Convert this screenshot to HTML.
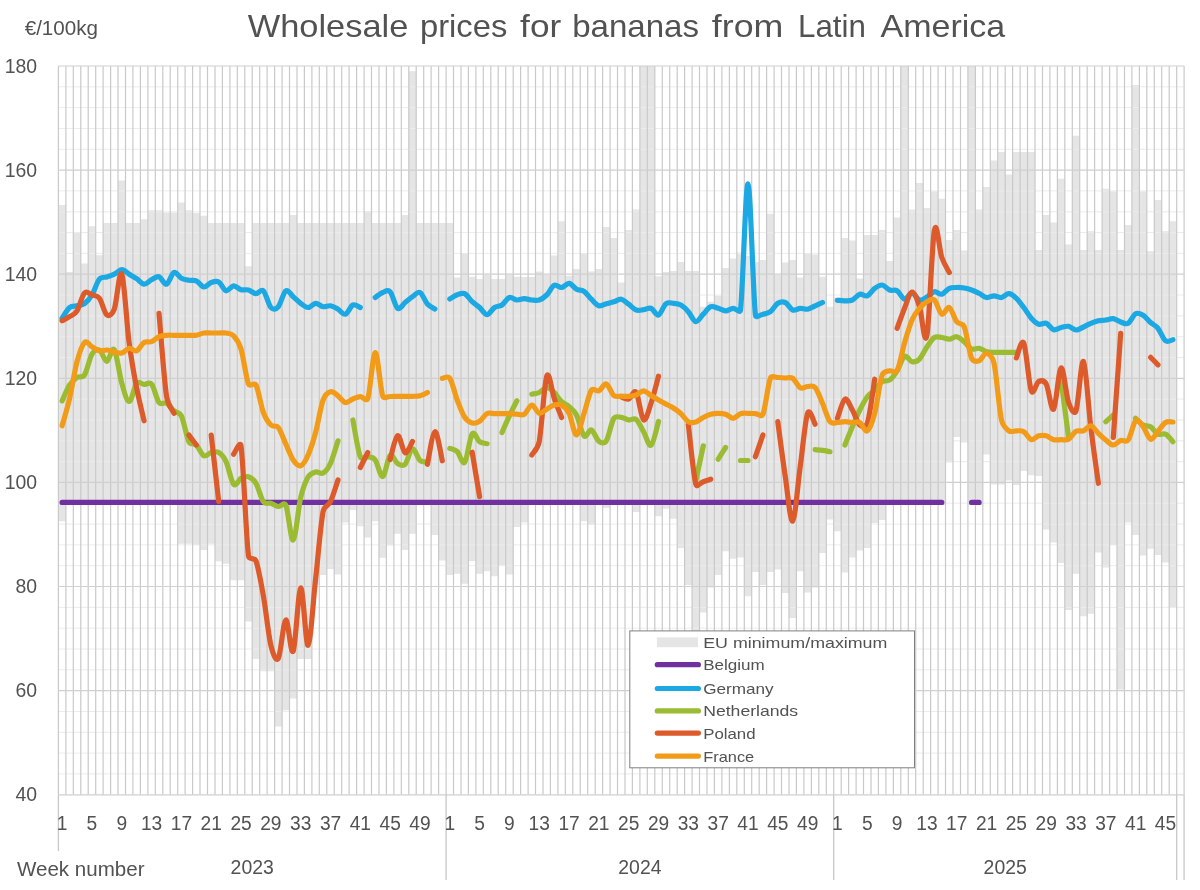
<!DOCTYPE html>
<html lang="en"><head><meta charset="utf-8"><title>Wholesale prices for bananas from Latin America</title>
<style>html,body{margin:0;padding:0;background:#fff}body{width:1200px;height:890px;overflow:hidden}svg{display:block}text{font-family:"Liberation Sans",Arial,sans-serif;fill:#525252}.ln{fill:none;stroke-width:5.2;stroke-linecap:round;stroke-linejoin:round}</style></head><body>
<svg width="1200" height="890" viewBox="0 0 1200 890">
<rect width="1200" height="890" fill="#fff"/>
<path d="M58.4 205H65.9V521.2H58.4ZM65.9 272H73.3V505H65.9ZM73.3 233H80.8V505H73.3ZM80.8 263.5H88.2V505H80.8ZM88.2 226.2H95.7V505H88.2ZM95.7 255.3H103.1V505H95.7ZM103.1 223H110.6V505H103.1ZM110.6 223H118V505H110.6ZM118 180.5H125.5V505H118ZM125.5 223H132.9V505H125.5ZM132.9 223H140.4V505H132.9ZM140.4 219.3H147.9V505H140.4ZM147.9 210.3H155.3V505H147.9ZM155.3 210.3H162.8V505H155.3ZM162.8 212.5H170.2V505H162.8ZM170.2 212.5H177.7V505H170.2ZM177.7 202.4H185.1V543.8H177.7ZM185.1 210.3H192.6V543.8H185.1ZM192.6 213H200V545H192.6ZM200 215.8H207.5V550H200ZM207.5 223H215V543.8H207.5ZM215 223H222.4V561.2H215ZM222.4 223H229.9V563.8H222.4ZM229.9 223H237.3V580.2H229.9ZM237.3 223H244.8V580.2H237.3ZM244.8 266.2H252.2V621.5H244.8ZM252.2 223H259.7V659H252.2ZM259.7 223H267.1V671.3H259.7ZM267.1 223H274.6V671.3H267.1ZM274.6 223H282.1V726.5H274.6ZM282.1 223H289.5V710.3H282.1ZM289.5 215H297V698.4H289.5ZM297 223H304.4V659H297ZM304.4 223H311.9V659H304.4ZM311.9 223H319.3V585H311.9ZM319.3 223H326.8V575H319.3ZM326.8 223H334.2V569H326.8ZM334.2 223H341.7V574.5H334.2ZM341.7 223H349.1V522.5H341.7ZM349.1 223H356.6V510H349.1ZM356.6 223H364.1V526.2H356.6ZM364.1 211.2H371.5V537.5H364.1ZM371.5 223H379V521.2H371.5ZM379 223H386.4V557.7H379ZM386.4 223H393.9V545.5H386.4ZM393.9 223H401.3V533.8H393.9ZM401.3 215H408.8V550H401.3ZM408.8 71.2H416.2V533.8H408.8ZM416.2 223H423.7V505H416.2ZM423.7 223H431.1V505H423.7ZM431.1 223H438.6V535H431.1ZM438.6 223H446.1V560.5H438.6ZM446.1 223H453.5V575H446.1ZM453.5 277.5H461V573.8H453.5ZM461 253H468.4V583.8H461ZM468.4 276.7H475.9V561.2H468.4ZM475.9 279H483.3V573.8H475.9ZM483.3 275H490.8V571.2H483.3ZM490.8 279H498.2V576.2H490.8ZM498.2 279H505.7V565H498.2ZM505.7 275H513.2V574.5H505.7ZM513.2 276.7H520.6V527H513.2ZM520.6 277H528.1V522.5H520.6ZM528.1 277H535.5V505H528.1ZM535.5 271.5H543V505H535.5ZM543 275H550.4V505H543ZM550.4 255.5H557.9V505H550.4ZM557.9 221.2H565.3V505H557.9ZM565.3 275.8H572.8V505H565.3ZM572.8 268.9H580.2V505H572.8ZM580.2 253H587.7V521.2H580.2ZM587.7 271.5H595.2V525H587.7ZM595.2 268.9H602.6V505H595.2ZM602.6 227H610.1V508H602.6ZM610.1 238H617.5V505H610.1ZM617.5 282.5H625V505H617.5ZM625 230H632.4V505H625ZM632.4 209.5H639.9V512H632.4ZM639.9 66H647.3V505H639.9ZM647.3 66H654.8V505H647.3ZM654.8 276.3H662.3V516.2H654.8ZM662.3 272H669.7V508.8H662.3ZM669.7 271H677.2V518.8H669.7ZM677.2 262H684.6V548H677.2ZM684.6 271H692.1V585H684.6ZM692.1 271H699.5V631H692.1ZM699.5 306.7H707V612.5H699.5ZM707 301.7H714.4V587.5H707ZM714.4 295.8H721.9V575H714.4ZM721.9 268H729.4V551.2H721.9ZM729.4 258.5H736.8V558.8H729.4ZM736.8 252.5H744.3V557.5H736.8ZM744.3 256H751.7V596.2H744.3ZM751.7 262H759.2V572H751.7ZM759.2 260H766.6V585H759.2ZM766.6 213.8H774.1V572H766.6ZM774.1 275H781.5V569.5H774.1ZM781.5 262.5H789V593H781.5ZM789 260H796.4V618H789ZM796.4 277.5H803.9V571.2H796.4ZM803.9 253H811.4V592.5H803.9ZM811.4 254.4H818.8V587.5H811.4ZM818.8 276.7H826.3V553H818.8ZM826.3 306.7H833.7V519.5H826.3ZM833.7 297.5H841.2V531.2H833.7ZM841.2 238H848.6V572.5H841.2ZM848.6 240.6H856.1V557.5H848.6ZM856.1 278.5H863.5V550.5H856.1ZM863.5 235H871V548H863.5ZM871 235H878.4V523H871ZM878.4 230H885.9V520H878.4ZM885.9 261H893.4V505H885.9ZM893.4 217.5H900.8V505H893.4ZM900.8 66H908.3V505H900.8ZM908.3 209.5H915.7V505H908.3ZM915.7 183H923.2V505H915.7ZM923.2 208H930.6V505H923.2ZM930.6 191.2H938.1V505H930.6ZM938.1 198.8H945.5V505H938.1ZM945.5 240H953V462.5H945.5ZM953 230H960.5V437H953ZM960.5 250.6H967.9V442.5H960.5ZM967.9 66H975.4V505H967.9ZM975.4 209.5H982.8V505H975.4ZM982.8 187H990.3V454.5H982.8ZM990.3 160.5H997.7V484.5H990.3ZM997.7 152H1005.2V484.5H997.7ZM1005.2 174.5H1012.6V480.5H1005.2ZM1012.6 152H1020.1V485H1012.6ZM1020.1 152H1027.5V471H1020.1ZM1027.5 152H1035V475.3H1027.5ZM1035 250H1042.5V476H1035ZM1042.5 215H1049.9V529.5H1042.5ZM1049.9 222.5H1057.4V542.5H1049.9ZM1057.4 178.8H1064.8V563H1057.4ZM1064.8 244.5H1072.3V610H1064.8ZM1072.3 135.8H1079.7V573.8H1072.3ZM1079.7 250H1087.2V616.2H1079.7ZM1087.2 231.2H1094.6V613.8H1087.2ZM1094.6 250H1102.1V552.5H1094.6ZM1102.1 188.8H1109.6V567.5H1102.1ZM1109.6 191.2H1117V545H1109.6ZM1117 250H1124.5V689.5H1117ZM1124.5 225H1131.9V522.5H1124.5ZM1131.9 85H1139.4V535H1131.9ZM1139.4 191.2H1146.8V555.5H1139.4ZM1146.8 251.2H1154.3V548.8H1146.8ZM1154.3 200H1161.7V555H1154.3ZM1161.7 231.2H1169.2V562.5H1161.7ZM1169.2 221.2H1176.7V607.5H1169.2Z" fill="#e5e5e5"/>
<path d="M58.4 773.9H1184.1M58.4 753.1H1184.1M58.4 732.3H1184.1M58.4 711.5H1184.1M58.4 669.8H1184.1M58.4 649H1184.1M58.4 628.2H1184.1M58.4 607.4H1184.1M58.4 565.7H1184.1M58.4 544.9H1184.1M58.4 524.1H1184.1M58.4 503.2H1184.1M58.4 461.6H1184.1M58.4 440.8H1184.1M58.4 420H1184.1M58.4 399.1H1184.1M58.4 357.5H1184.1M58.4 336.7H1184.1M58.4 315.9H1184.1M58.4 295H1184.1M58.4 253.4H1184.1M58.4 232.6H1184.1M58.4 211.8H1184.1M58.4 190.9H1184.1M58.4 149.3H1184.1M58.4 128.5H1184.1M58.4 107.6H1184.1M58.4 86.8H1184.1" stroke="#ececec" stroke-width="1" fill="none"/>
<path d="M58.4 66V794.8M65.9 66V794.8M73.3 66V794.8M80.8 66V794.8M88.2 66V794.8M95.7 66V794.8M103.1 66V794.8M110.6 66V794.8M118 66V794.8M125.5 66V794.8M132.9 66V794.8M140.4 66V794.8M147.9 66V794.8M155.3 66V794.8M162.8 66V794.8M170.2 66V794.8M177.7 66V794.8M185.1 66V794.8M192.6 66V794.8M200 66V794.8M207.5 66V794.8M215 66V794.8M222.4 66V794.8M229.9 66V794.8M237.3 66V794.8M244.8 66V794.8M252.2 66V794.8M259.7 66V794.8M267.1 66V794.8M274.6 66V794.8M282.1 66V794.8M289.5 66V794.8M297 66V794.8M304.4 66V794.8M311.9 66V794.8M319.3 66V794.8M326.8 66V794.8M334.2 66V794.8M341.7 66V794.8M349.1 66V794.8M356.6 66V794.8M364.1 66V794.8M371.5 66V794.8M379 66V794.8M386.4 66V794.8M393.9 66V794.8M401.3 66V794.8M408.8 66V794.8M416.2 66V794.8M423.7 66V794.8M431.1 66V794.8M438.6 66V794.8M446.1 66V794.8M453.5 66V794.8M461 66V794.8M468.4 66V794.8M475.9 66V794.8M483.3 66V794.8M490.8 66V794.8M498.2 66V794.8M505.7 66V794.8M513.2 66V794.8M520.6 66V794.8M528.1 66V794.8M535.5 66V794.8M543 66V794.8M550.4 66V794.8M557.9 66V794.8M565.3 66V794.8M572.8 66V794.8M580.2 66V794.8M587.7 66V794.8M595.2 66V794.8M602.6 66V794.8M610.1 66V794.8M617.5 66V794.8M625 66V794.8M632.4 66V794.8M639.9 66V794.8M647.3 66V794.8M654.8 66V794.8M662.3 66V794.8M669.7 66V794.8M677.2 66V794.8M684.6 66V794.8M692.1 66V794.8M699.5 66V794.8M707 66V794.8M714.4 66V794.8M721.9 66V794.8M729.4 66V794.8M736.8 66V794.8M744.3 66V794.8M751.7 66V794.8M759.2 66V794.8M766.6 66V794.8M774.1 66V794.8M781.5 66V794.8M789 66V794.8M796.4 66V794.8M803.9 66V794.8M811.4 66V794.8M818.8 66V794.8M826.3 66V794.8M833.7 66V794.8M841.2 66V794.8M848.6 66V794.8M856.1 66V794.8M863.5 66V794.8M871 66V794.8M878.4 66V794.8M885.9 66V794.8M893.4 66V794.8M900.8 66V794.8M908.3 66V794.8M915.7 66V794.8M923.2 66V794.8M930.6 66V794.8M938.1 66V794.8M945.5 66V794.8M953 66V794.8M960.5 66V794.8M967.9 66V794.8M975.4 66V794.8M982.8 66V794.8M990.3 66V794.8M997.7 66V794.8M1005.2 66V794.8M1012.6 66V794.8M1020.1 66V794.8M1027.5 66V794.8M1035 66V794.8M1042.5 66V794.8M1049.9 66V794.8M1057.4 66V794.8M1064.8 66V794.8M1072.3 66V794.8M1079.7 66V794.8M1087.2 66V794.8M1094.6 66V794.8M1102.1 66V794.8M1109.6 66V794.8M1117 66V794.8M1124.5 66V794.8M1131.9 66V794.8M1139.4 66V794.8M1146.8 66V794.8M1154.3 66V794.8M1161.7 66V794.8M1169.2 66V794.8M1176.7 66V794.8M1184.1 66V794.8" stroke="#c9c9c9" stroke-width="1.2" fill="none"/>
<path d="M58.4 794.8H1184.1M58.4 690.6H1184.1M58.4 586.5H1184.1M58.4 482.4H1184.1M58.4 378.3H1184.1M58.4 274.2H1184.1M58.4 170.1H1184.1M58.4 66H1184.1" stroke="#d0d0d0" stroke-width="1.2" fill="none"/>
<path d="M58.4 794.8V851M446.1 794.8V880M833.7 794.8V880M1176.7 794.8V880M1184.1 794.8V880" stroke="#c8c8c8" stroke-width="1.3" fill="none"/>
<path class="ln" stroke="#7030a0" d="M62.1 502.4C63.4 502.4 67.1 502.4 69.6 502.4C72.1 502.4 74.6 502.4 77 502.4C79.5 502.4 82 502.4 84.5 502.4C87 502.4 89.5 502.4 91.9 502.4C94.4 502.4 96.9 502.4 99.4 502.4C101.9 502.4 104.4 502.4 106.9 502.4C109.3 502.4 111.8 502.4 114.3 502.4C116.8 502.4 119.3 502.4 121.8 502.4C124.3 502.4 126.7 502.4 129.2 502.4C131.7 502.4 134.2 502.4 136.7 502.4C139.2 502.4 141.6 502.4 144.1 502.4C146.6 502.4 149.1 502.4 151.6 502.4C154.1 502.4 156.6 502.4 159 502.4C161.5 502.4 164 502.4 166.5 502.4C169 502.4 171.5 502.4 174 502.4C176.4 502.4 178.9 502.4 181.4 502.4C183.9 502.4 186.4 502.4 188.9 502.4C191.3 502.4 193.8 502.4 196.3 502.4C198.8 502.4 201.3 502.4 203.8 502.4C206.3 502.4 208.7 502.4 211.2 502.4C213.7 502.4 216.2 502.4 218.7 502.4C221.2 502.4 223.7 502.4 226.1 502.4C228.6 502.4 231.1 502.4 233.6 502.4C236.1 502.4 238.6 502.4 241 502.4C243.5 502.4 246 502.4 248.5 502.4C251 502.4 253.5 502.4 256 502.4C258.4 502.4 260.9 502.4 263.4 502.4C265.9 502.4 268.4 502.4 270.9 502.4C273.4 502.4 275.8 502.4 278.3 502.4C280.8 502.4 283.3 502.4 285.8 502.4C288.3 502.4 290.7 502.4 293.2 502.4C295.7 502.4 298.2 502.4 300.7 502.4C303.2 502.4 305.7 502.4 308.1 502.4C310.6 502.4 313.1 502.4 315.6 502.4C318.1 502.4 320.6 502.4 323.1 502.4C325.5 502.4 328 502.4 330.5 502.4C333 502.4 335.5 502.4 338 502.4C340.4 502.4 342.9 502.4 345.4 502.4C347.9 502.4 350.4 502.4 352.9 502.4C355.4 502.4 357.8 502.4 360.3 502.4C362.8 502.4 365.3 502.4 367.8 502.4C370.3 502.4 372.8 502.4 375.2 502.4C377.7 502.4 380.2 502.4 382.7 502.4C385.2 502.4 387.7 502.4 390.1 502.4C392.6 502.4 395.1 502.4 397.6 502.4C400.1 502.4 402.6 502.4 405.1 502.4C407.5 502.4 410 502.4 412.5 502.4C415 502.4 417.5 502.4 420 502.4C422.5 502.4 424.9 502.4 427.4 502.4C429.9 502.4 432.4 502.4 434.9 502.4C437.4 502.4 439.8 502.4 442.3 502.4C444.8 502.4 447.3 502.4 449.8 502.4C452.3 502.4 454.8 502.4 457.2 502.4C459.7 502.4 462.2 502.4 464.7 502.4C467.2 502.4 469.7 502.4 472.2 502.4C474.6 502.4 477.1 502.4 479.6 502.4C482.1 502.4 484.6 502.4 487.1 502.4C489.5 502.4 492 502.4 494.5 502.4C497 502.4 499.5 502.4 502 502.4C504.5 502.4 506.9 502.4 509.4 502.4C511.9 502.4 514.4 502.4 516.9 502.4C519.4 502.4 521.9 502.4 524.3 502.4C526.8 502.4 529.3 502.4 531.8 502.4C534.3 502.4 536.8 502.4 539.2 502.4C541.7 502.4 544.2 502.4 546.7 502.4C549.2 502.4 551.7 502.4 554.2 502.4C556.6 502.4 559.1 502.4 561.6 502.4C564.1 502.4 566.6 502.4 569.1 502.4C571.6 502.4 574 502.4 576.5 502.4C579 502.4 581.5 502.4 584 502.4C586.5 502.4 588.9 502.4 591.4 502.4C593.9 502.4 596.4 502.4 598.9 502.4C601.4 502.4 603.9 502.4 606.3 502.4C608.8 502.4 611.3 502.4 613.8 502.4C616.3 502.4 618.8 502.4 621.3 502.4C623.7 502.4 626.2 502.4 628.7 502.4C631.2 502.4 633.7 502.4 636.2 502.4C638.6 502.4 641.1 502.4 643.6 502.4C646.1 502.4 648.6 502.4 651.1 502.4C653.6 502.4 656 502.4 658.5 502.4C661 502.4 663.5 502.4 666 502.4C668.5 502.4 671 502.4 673.4 502.4C675.9 502.4 678.4 502.4 680.9 502.4C683.4 502.4 685.9 502.4 688.3 502.4C690.8 502.4 693.3 502.4 695.8 502.4C698.3 502.4 700.8 502.4 703.3 502.4C705.7 502.4 708.2 502.4 710.7 502.4C713.2 502.4 715.7 502.4 718.2 502.4C720.7 502.4 723.1 502.4 725.6 502.4C728.1 502.4 730.6 502.4 733.1 502.4C735.6 502.4 738 502.4 740.5 502.4C743 502.4 745.5 502.4 748 502.4C750.5 502.4 753 502.4 755.4 502.4C757.9 502.4 760.4 502.4 762.9 502.4C765.4 502.4 767.9 502.4 770.4 502.4C772.8 502.4 775.3 502.4 777.8 502.4C780.3 502.4 782.8 502.4 785.3 502.4C787.7 502.4 790.2 502.4 792.7 502.4C795.2 502.4 797.7 502.4 800.2 502.4C802.7 502.4 805.1 502.4 807.6 502.4C810.1 502.4 812.6 502.4 815.1 502.4C817.6 502.4 820.1 502.4 822.5 502.4C825 502.4 827.5 502.4 830 502.4C832.5 502.4 835 502.4 837.4 502.4C839.9 502.4 842.4 502.4 844.9 502.4C847.4 502.4 849.9 502.4 852.4 502.4C854.8 502.4 857.3 502.4 859.8 502.4C862.3 502.4 864.8 502.4 867.3 502.4C869.8 502.4 872.2 502.4 874.7 502.4C877.2 502.4 879.7 502.4 882.2 502.4C884.7 502.4 887.1 502.4 889.6 502.4C892.1 502.4 894.6 502.4 897.1 502.4C899.6 502.4 902.1 502.4 904.5 502.4C907 502.4 909.5 502.4 912 502.4C914.5 502.4 917 502.4 919.5 502.4C921.9 502.4 924.4 502.4 926.9 502.4C929.4 502.4 931.9 502.4 934.4 502.4C936.8 502.4 940.6 502.4 941.8 502.4 M971.6 502.4C972.9 502.4 977.8 502.4 979.1 502.4"/>
<path class="ln" stroke="#1ba8e3" d="M62.1 318.3C63.4 316.5 67.1 309.6 69.6 307.5C72.1 305.4 74.6 306.4 77 305.8C79.5 305.2 82 305.5 84.5 303.7C87 301.9 89.5 299.1 91.9 295C94.4 290.9 96.9 282.2 99.4 279.2C101.9 276.2 104.4 277.8 106.9 277C109.3 276.2 111.8 275.4 114.3 274.2C116.8 273 119.3 269.7 121.8 269.7C124.3 269.7 126.7 272.7 129.2 274.2C131.7 275.7 134.2 277 136.7 278.7C139.2 280.4 141.6 284 144.1 284.2C146.6 284.4 149.1 280.9 151.6 279.7C154.1 278.4 156.6 275.9 159 276.7C161.5 277.4 164 284.9 166.5 284.2C169 283.5 171.5 273.5 174 272.5C176.4 271.5 178.9 277 181.4 278.3C183.9 279.6 186.4 279.9 188.9 280.3C191.3 280.7 193.8 279.7 196.3 280.8C198.8 281.9 201.3 286.7 203.8 287C206.3 287.3 208.7 283.3 211.2 282.5C213.7 281.7 216.2 280.6 218.7 282C221.2 283.4 223.7 290.2 226.1 290.8C228.6 291.4 231.1 286 233.6 285.8C236.1 285.6 238.6 289 241 289.7C243.5 290.4 246 289.3 248.5 290C251 290.7 253.5 293.6 256 293.7C258.4 293.8 260.9 288.5 263.4 290.8C265.9 293.1 268.4 304.9 270.9 307.5C273.4 310.1 275.8 309.5 278.3 306.7C280.8 303.9 283.3 292.5 285.8 290.8C288.3 289.1 290.7 294.6 293.2 296.7C295.7 298.8 298.2 301.5 300.7 303.3C303.2 305.1 305.7 307.5 308.1 307.5C310.6 307.5 313.1 303.4 315.6 303.3C318.1 303.2 320.6 306.3 323.1 306.7C325.5 307.1 328 305.4 330.5 305.8C333 306.2 335.5 307.8 338 309.2C340.4 310.6 342.9 314.9 345.4 314.2C347.9 313.5 350.4 306.1 352.9 305C355.4 303.9 359.1 307.1 360.3 307.5 M375.2 297.5C376.5 296.7 380.2 293.5 382.7 292.5C385.2 291.5 387.7 289.1 390.1 291.7C392.6 294.3 395.1 306.5 397.6 308.3C400.1 310.1 402.6 304.4 405.1 302.5C407.5 300.6 410 298.4 412.5 296.7C415 295 417.5 291.3 420 292.5C422.5 293.7 424.9 301.2 427.4 304C429.9 306.8 433.6 308.2 434.9 309 M449.8 299C451 298.3 454.8 295.6 457.2 294.7C459.7 293.8 462.2 292.5 464.7 293.7C467.2 294.9 469.7 299.4 472.2 301.7C474.6 304 477.1 305.3 479.6 307.5C482.1 309.7 484.6 314.7 487.1 314.7C489.5 314.7 492 309.1 494.5 307.5C497 305.9 499.5 306.7 502 305C504.5 303.3 506.9 298.3 509.4 297.5C511.9 296.7 514.4 299.8 516.9 300C519.4 300.2 521.9 298.7 524.3 298.7C526.8 298.7 529.3 299.8 531.8 300C534.3 300.2 536.8 300.8 539.2 300C541.7 299.2 544.2 297.4 546.7 295C549.2 292.6 551.7 286.6 554.2 285.3C556.6 284.1 559.1 287.8 561.6 287.5C564.1 287.2 566.6 283 569.1 283.3C571.6 283.6 574 287.9 576.5 289.2C579 290.5 581.5 289.6 584 291.3C586.5 293 588.9 296.8 591.4 299.2C593.9 301.6 596.4 305.1 598.9 305.8C601.4 306.6 603.9 304.4 606.3 303.7C608.8 303 611.3 302.6 613.8 301.8C616.3 301.1 618.8 298.8 621.3 299.2C623.7 299.6 626.2 302.4 628.7 304.2C631.2 306 633.7 309.1 636.2 310C638.6 310.9 641.1 310 643.6 309.7C646.1 309.4 648.6 307.4 651.1 308.3C653.6 309.2 656 315.8 658.5 315C661 314.2 663.5 305.6 666 303.7C668.5 301.8 671 303.1 673.4 303.3C675.9 303.5 678.4 303.6 680.9 305C683.4 306.4 685.9 308.9 688.3 311.7C690.8 314.5 693.3 321.3 695.8 321.7C698.3 322.1 700.8 316.7 703.3 314.2C705.7 311.7 708.2 307.7 710.7 306.7C713.2 305.7 715.7 307.6 718.2 308.3C720.7 309 723.1 310.8 725.6 310.8C728.1 310.8 730.6 308.4 733.1 308.3C735.6 308.2 740.1 313.8 740.5 310C743 289.3 745.5 183.2 748 184C750.5 184.8 753 293.3 755.4 315C755.9 318.7 760.4 314.8 762.9 314.2C765.4 313.6 767.9 313.5 770.4 311.7C772.8 309.9 775.3 304.8 777.8 303.3C780.3 301.8 782.8 301.4 785.3 302.5C787.7 303.6 790.2 309 792.7 310C795.2 311 797.7 308.4 800.2 308.3C802.7 308.2 805.1 309.6 807.6 309.2C810.1 308.8 812.6 306.9 815.1 305.8C817.6 304.7 821.3 303.1 822.5 302.5 M837.4 300.3C838.7 300.4 842.4 300.9 844.9 300.8C847.4 300.8 849.9 301.1 852.4 300C854.8 298.9 857.3 294.9 859.8 294.2C862.3 293.5 864.8 296.8 867.3 295.8C869.8 294.8 872.2 290.1 874.7 288.3C877.2 286.5 879.7 284.7 882.2 285C884.7 285.3 887.1 289 889.6 290C892.1 291 894.6 289.3 897.1 290.8C899.6 292.3 902.1 298.8 904.5 299.2C907 299.6 909.5 292.9 912 293C914.5 293.1 917 299.3 919.5 300C921.9 300.7 924.4 298.4 926.9 297C929.4 295.6 931.9 292.2 934.4 291.7C936.8 291.2 939.3 294.8 941.8 294.2C944.3 293.6 946.8 289.4 949.3 288.3C951.8 287.2 954.2 287.6 956.7 287.5C959.2 287.4 961.7 287.6 964.2 288C966.7 288.4 969.2 289.1 971.6 290C974.1 290.9 976.6 292.1 979.1 293.3C981.6 294.6 984.1 297.1 986.5 297.5C989 297.9 991.5 295.8 994 295.8C996.5 295.8 999 297.9 1001.5 297.5C1003.9 297.1 1006.4 293.6 1008.9 293.7C1011.4 293.8 1013.9 296 1016.4 298.3C1018.9 300.6 1021.3 304.2 1023.8 307.5C1026.3 310.8 1028.8 315.5 1031.3 318.3C1033.8 321.1 1036.2 323.4 1038.7 324.2C1041.2 325 1043.7 322.4 1046.2 323.3C1048.7 324.2 1051.2 329 1053.6 329.7C1056.1 330.4 1058.6 328.1 1061.1 327.5C1063.6 326.9 1066.1 325.9 1068.6 326.3C1071 326.7 1073.5 329.9 1076 330C1078.5 330.1 1081 328.1 1083.5 327C1085.9 325.9 1088.4 324.3 1090.9 323.3C1093.4 322.3 1095.9 321.4 1098.4 320.8C1100.9 320.2 1103.3 320.4 1105.8 320C1108.3 319.6 1110.8 318.4 1113.3 318.7C1115.8 319 1118.3 321.2 1120.7 322C1123.2 322.8 1125.7 324.7 1128.2 323.3C1130.7 321.9 1133.2 315 1135.6 313.7C1138.1 312.4 1140.6 313.8 1143.1 315.3C1145.6 316.8 1148.1 320.3 1150.6 322.5C1153 324.7 1155.5 325.2 1158 328.3C1160.5 331.4 1163 338.9 1165.5 340.8C1168 342.7 1171.7 339.9 1172.9 339.7"/>
<path class="ln" stroke="#9bbb33" d="M62.1 400.8C63.4 398.2 67.1 388.9 69.6 385C72.1 381.1 74.6 379.2 77 377.5C79.5 375.8 82.4 378.3 84.5 375C87 371.1 89.5 358.4 91.9 354.2C94.1 350.5 96.9 348.8 99.4 350C101.9 351.2 104.4 361.4 106.9 361.3C109.3 361.2 111.8 346 114.3 349.7C116.8 353.4 119.3 374.7 121.8 383.3C124.3 391.9 126.7 401.5 129.2 401.5C131.7 401.5 134.2 386.1 136.7 383.3C139.2 380.5 141.6 384.4 144.1 384.5C146.6 384.6 149.2 381.3 151.6 384.2C154.1 387.2 156.6 399.3 159 402.5C161.3 405.5 164 401.9 166.5 403.3C169 404.7 171.5 408.7 174 410.8C176.4 412.9 179.5 411.8 181.4 415.8C183.9 420.9 186.4 436.8 188.9 441.7C190.7 445.3 193.8 442.6 196.3 445C198.8 447.4 201.3 454.6 203.8 455.8C206.3 457.1 208.7 453.1 211.2 452.5C213.7 451.9 216.2 451 218.7 452.5C221.2 454 223.7 456.4 226.1 461.7C228.6 467 231.1 481.4 233.6 484.2C236.1 487 238.6 479.6 241 478.3C243.5 477.1 246 475.9 248.5 476.7C251 477.5 253.5 479.1 256 483.3C258.4 487.5 260.9 498.4 263.4 501.7C265.7 504.8 268.4 502.5 270.9 503.3C273.4 504.1 275.8 506.2 278.3 506.5C280.8 506.8 284.2 501.5 285.8 505C288.3 510.6 290.7 541.2 293.2 540C295.7 538.8 298.2 508 300.7 497.5C303.2 487 305.7 481.2 308.1 477C310.4 473.1 313.1 472.7 315.6 472C318.1 471.3 320.6 474.4 323.1 473C325.5 471.6 328 468.7 330.5 463.3C333 457.9 336.7 444.6 338 440.8 M352.9 420C354.1 426.1 357.8 450.6 360.3 456.7C361.7 460.2 365.3 456.1 367.8 456.7C370.3 457.2 372.8 456.7 375.2 460C377.7 463.3 380.2 477.2 382.7 476.5C385.2 475.8 387.7 457.7 390.1 455.5C392.6 453.3 395.1 462 397.6 463.5C400.1 465 402.6 466.7 405.1 464.3C407.5 461.9 410 449.6 412.5 449C415 448.4 417.5 458.4 420 460.5C422.5 462.6 426.2 461.5 427.4 461.7 M449.8 448.4C451 448.9 454.8 449.2 457.2 451.5C459.7 453.8 462.2 465.2 464.7 462.3C467.2 459.4 469.7 437.2 472.2 433.8C474.6 430.4 477.1 440.2 479.6 441.8C482.1 443.4 485.8 443.4 487.1 443.7 M502 432.5C503.2 429.7 506.9 421.1 509.4 415.8C511.9 410.5 515.6 403.3 516.9 400.8 M531.8 394.2C533 393.9 536.8 393.6 539.2 392.5C541.7 391.4 544.2 387.5 546.7 387.5C549.2 387.5 551.7 390.1 554.2 392.5C556.6 394.9 559.1 399.3 561.6 401.7C564.1 404.1 566.6 404.5 569.1 406.7C571.6 408.9 574 410.1 576.5 415C579 419.9 581.5 433.3 584 435.8C586.5 438.3 588.9 429.1 591.4 430C593.9 430.9 596.4 439.5 598.9 441.3C601.4 443.1 604.3 443.9 606.3 440.8C608.8 437 611.3 422.4 613.8 418.5C615.8 415.3 618.8 417.1 621.3 417.4C623.7 417.6 626.2 419.6 628.7 420C631.2 420.4 633.7 417.5 636.2 419.5C638.6 421.5 641.1 427.5 643.6 431.8C646.1 436.1 648.6 446.9 651.1 445.2C653.6 443.5 657.3 425.4 658.5 421.4 M695.8 481C697 475.1 702 451.7 703.3 445.8 M718.2 459.2C719.4 457.2 724.4 449.4 725.6 447.5 M740.5 460.5C741.8 460.5 746.7 460.5 748 460.5 M815.1 449.7C816.3 449.8 820.1 450 822.5 450.3C825 450.6 828.8 451.5 830 451.7 M844.9 445C846.1 441.9 849.9 432.5 852.4 426.7C854.8 420.9 857.3 415 859.8 410C862.3 405 864.8 400 867.3 396.7C869.8 393.4 872.2 392.5 874.7 390C877.2 387.5 879.7 383.4 882.2 381.7C884.7 380 887.1 381.8 889.6 380C892.1 378.2 894.6 374.8 897.1 370.8C899.6 366.9 902.1 357.8 904.5 356.3C907 354.8 909.5 361.2 912 361.7C914.5 362.2 917 361.6 919.5 359.1C921.9 356.7 924.4 350.6 926.9 347C929.4 343.4 931.9 339.1 934.4 337.5C936.8 335.9 939.3 337.2 941.8 337.5C944.3 337.8 946.8 339.3 949.3 339.2C951.8 339.1 954.2 336.3 956.7 336.7C959.2 337.1 961.7 339.6 964.2 341.7C966.7 343.8 969.2 347.9 971.6 349C974.1 350.1 976.6 347.9 979.1 348.3C981.6 348.8 984.1 351 986.5 351.7C989 352.4 991.5 352.2 994 352.3C996.5 352.4 999 352.3 1001.5 352.3C1003.9 352.3 1006.4 352.3 1008.9 352.3C1011.4 352.3 1015.1 352.3 1016.4 352.3 M1061.1 380C1062.3 389.6 1067.3 428.1 1068.6 437.7 M1105.8 421.7C1107.1 420.6 1112 416.1 1113.3 415 M1135.6 418.3C1136.9 419.4 1140.6 423.6 1143.1 425C1145.6 426.4 1148.1 425.2 1150.6 426.7C1153 428.2 1155.5 432.9 1158 434.2C1160.5 435.4 1163 432.9 1165.5 434.2C1168 435.4 1171.7 440.4 1172.9 441.7"/>
<path class="ln" stroke="#dd5a2b" d="M62.1 320.8C63.4 320.1 67.1 318.4 69.6 316.7C72.1 315 74.6 314.8 77 310.8C79.5 306.9 82 295.6 84.5 293C87 290.4 89.5 294.1 91.9 295C94.4 295.9 97 295 99.4 298.3C101.9 301.6 104.4 313.2 106.9 315C109.3 316.8 112.7 313.6 114.3 309.2C116.8 302.4 119.3 268.5 121.8 274.2C124.3 279.9 126.7 324.3 129.2 343.3C131.7 362.3 134.2 375.4 136.7 388.3C139.2 401.2 142.9 415.4 144.1 420.8 M159 313.3C160.3 327.1 164 379.3 166.5 396C167.9 405.3 172.7 410.4 174 413.3 M188.9 435C190.1 436.7 195.1 443.3 196.3 445 M211.2 435C212.5 446.1 217.4 490.4 218.7 501.5 M233.6 454.2C234.8 452.8 240.2 440.2 241 445.8C243.5 462.8 246 536.8 248.5 556C249.1 560.5 254.4 556.8 256 561C258.4 567.7 260.9 582 263.4 596C265.9 610 268.4 634.9 270.9 645.3C272.6 652.6 275.8 662.6 278.3 658.4C280.8 654.2 283.3 621.2 285.8 620C288.3 618.8 290.7 656.5 293.2 651.2C295.7 645.9 298.2 589 300.7 588C303.2 587 305.7 646.8 308.1 645.3C310.6 643.8 313.1 601.3 315.6 579C318.1 556.7 320.6 524.4 323.1 511.5C324.2 505.4 328 506.8 330.5 501.5C333 496.2 336.7 483.6 338 480 M360.3 467.5C361.6 465 366.5 455 367.8 452.5 M390.1 459.5C391.4 455.5 395.1 436.8 397.6 435.7C400.1 434.6 402.6 451.8 405.1 452.8C407.5 453.8 411.3 443.4 412.5 441.5 M427.4 464.3C428.7 458.9 432.4 432.3 434.9 431.7C437.4 431.1 441.1 455.9 442.3 460.8 M472.2 452.2C473.4 459.6 478.4 489.3 479.6 496.7 M531.8 455C533 452.8 537.8 449.2 539.2 441.7C541.7 428.6 544.2 383.5 546.7 376.3C549.2 369.1 551.7 391.4 554.2 398.3C556.6 405.2 560.4 414.3 561.6 417.5 M621.3 397C622.5 397.3 626.2 399.8 628.7 399C631.2 398.2 633.7 388.9 636.2 392.4C638.6 395.9 641.1 418 643.6 419.8C646.1 421.6 648.6 410.3 651.1 403C653.6 395.7 657.3 380.7 658.5 376.2 M688.3 424.4C689.6 434.4 693.3 474.6 695.8 484.2C696.8 488 700.8 482.5 703.3 481.7C705.7 480.9 709.5 479.6 710.7 479.2 M755.4 456.7C756.7 453.1 761.7 438.6 762.9 435 M777.8 421.7C779 430.9 782.8 460.1 785.3 476.7C787.7 493.2 790.2 522.7 792.7 521C795.2 519.3 797.7 484.6 800.2 466.7C802.7 448.8 805.1 420.4 807.6 413.3C809.8 407.1 813.8 422.4 815.1 424.2 M837.4 418.3C838.7 415.1 842.4 400.6 844.9 399.2C847.4 397.8 849.9 405.7 852.4 410C854.8 414.3 857.3 422.8 859.8 425C862.3 427.2 866.1 426.9 867.3 423.3C869.8 415.7 873.5 386.6 874.7 379.2 M897.1 328.3C898.3 325 902.1 314.4 904.5 308.3C907 302.2 909.5 292.3 912 292C914.5 291.7 917 299.4 919.5 306.7C921.9 313.9 924.4 348.2 926.9 335.5C929.4 322.8 931.9 243.3 934.4 230.3C936.8 217.3 939.3 250.5 941.8 257.5C944.3 264.5 948 270 949.3 272.5 M1016.4 357.9C1017.6 355.5 1021.3 337.8 1023.8 343.3C1026.3 348.8 1028.8 384.4 1031.3 390.8C1033.4 396.4 1036.2 382.6 1038.7 381.5C1041.2 380.4 1044.3 380.5 1046.2 384C1048.7 388.6 1051.2 411.9 1053.6 409.2C1056.1 406.5 1058.6 369.1 1061.1 368C1063.6 366.9 1066.1 395.4 1068.6 402.5C1070.4 407.8 1074.1 416 1076 410.8C1078.5 404 1081 358.6 1083.5 361.5C1085.9 364.4 1088.4 408 1090.9 428.3C1093.4 448.6 1097.1 474.1 1098.4 483.3 M1113.3 437.5C1114.5 420.1 1119.5 350.7 1120.7 333.3 M1150.6 357.3C1151.8 358.6 1156.8 363.6 1158 364.8"/>
<path class="ln" stroke="#f29b18" d="M62.1 425.8C63.4 421.2 67.1 409 69.6 398.3C72.1 387.6 74.6 371 77 361.7C79.5 352.4 82 345 84.5 342.5C87 340 89.5 345.3 91.9 346.7C94.4 348.1 96.9 350.2 99.4 350.8C101.9 351.4 104.4 349.8 106.9 350C109.3 350.2 111.8 351.5 114.3 352C116.8 352.5 119.3 353.6 121.8 353C124.3 352.4 126.7 348.7 129.2 348.3C131.7 347.9 134.2 351.8 136.7 350.8C139.2 349.8 141.6 344 144.1 342.5C146.6 341 149.1 342.7 151.6 341.7C154.1 340.7 156.6 337.8 159 336.7C161.5 335.6 164 335.5 166.5 335.3C169 335.1 171.5 335.3 174 335.3C176.4 335.3 178.9 335.3 181.4 335.3C183.9 335.3 186.4 335.3 188.9 335.3C191.3 335.3 193.8 335.7 196.3 335.3C198.8 334.9 201.3 333.4 203.8 333C206.3 332.6 208.7 333 211.2 333C213.7 333 216.2 333 218.7 333C221.2 333 223.7 332.5 226.1 333C228.6 333.5 231.1 333.1 233.6 335.8C236.1 338.5 238.8 341.8 241 349C243.5 357 246 378 248.5 384C249.9 387.5 254.2 381.7 256 385C258.4 389.8 260.9 405.8 263.4 412.5C265.9 419.2 268.4 422.5 270.9 425C273.4 427.5 275.9 424.4 278.3 427.5C280.8 430.7 283.3 438.6 285.8 444C288.3 449.4 290.7 456.4 293.2 460C295.7 463.6 298.2 466.6 300.7 465.8C303.2 465 305.7 460.6 308.1 455C310.6 449.4 313.1 441.7 315.6 432.5C318.1 423.3 320.6 406.8 323.1 400C325 394.8 328 392.4 330.5 391.7C333 391 335.5 394 338 395.8C340.4 397.6 342.9 402 345.4 402.5C347.9 403 350.4 400 352.9 399C355.4 398 357.8 396.8 360.3 396.7C362.8 396.6 366.6 402.1 367.8 398.5C370.3 391.1 372.8 352.9 375.2 352.5C377.7 352.1 380.2 388.7 382.7 396C383.9 399.5 387.7 396.4 390.1 396.5C392.6 396.6 395.1 396.3 397.6 396.3C400.1 396.3 402.6 396.3 405.1 396.3C407.5 396.3 410 396.4 412.5 396.3C415 396.2 417.5 396.4 420 395.8C422.5 395.2 426.2 393.1 427.4 392.5 M442.3 378.3C443.6 378.3 447.7 375.2 449.8 378.3C452.3 381.9 454.8 393.5 457.2 400C459.7 406.5 462.2 413.5 464.7 417.3C467.2 421.1 469.7 422.3 472.2 423C474.6 423.7 477.1 422.9 479.6 421.3C482.1 419.7 484.6 414.8 487.1 413.5C489.5 412.2 492 413.7 494.5 413.7C497 413.7 499.5 413.7 502 413.7C504.5 413.7 506.9 413.6 509.4 413.7C511.9 413.8 514.4 414.1 516.9 414.2C519.4 414.3 521.9 415.7 524.3 414.2C526.8 412.7 529.3 405.1 531.8 405C534.3 404.9 536.8 412.6 539.2 413.3C541.7 414 544.2 410.6 546.7 409.2C549.2 407.8 551.7 405.7 554.2 405C556.6 404.3 559.1 403.6 561.6 405C564.1 406.4 566.6 408.3 569.1 413.3C571.6 418.3 574 435 576.5 435C579 435 581.5 420.9 584 413.5C586.5 406.1 588.9 394.1 591.4 390.3C593.5 387.2 596.4 391.9 598.9 390.8C601.4 389.8 603.9 383.2 606.3 384C608.8 384.8 611.3 393.5 613.8 395.5C616.3 397.5 618.8 396.1 621.3 396.2C623.7 396.3 626.2 396.6 628.7 396.4C631.2 396.2 633.7 395.9 636.2 395C638.6 394.1 641.1 390.7 643.6 390.8C646.1 390.9 648.6 394.1 651.1 395.6C653.6 397.1 656 398.6 658.5 400C661 401.4 663.5 402.8 666 404.1C668.5 405.4 671 406.4 673.4 408C675.9 409.6 678.4 411.3 680.9 413.6C683.4 415.9 685.9 420.3 688.3 421.7C690.8 423.1 693.3 422.7 695.8 422C698.3 421.3 700.8 418.8 703.3 417.5C705.7 416.2 708.2 414.9 710.7 414.2C713.2 413.5 715.7 413.3 718.2 413.3C720.7 413.3 723.1 413.4 725.6 414.2C728.1 415 730.6 418.4 733.1 418.3C735.6 418.2 738 414.5 740.5 413.7C743 412.9 745.5 413.3 748 413.3C750.5 413.3 753 413.6 755.4 413.7C757.9 413.8 761.4 417.6 762.9 414.2C765.4 408.3 767.9 384.4 770.4 378.3C771.8 374.8 775.3 377.6 777.8 377.5C780.3 377.4 782.8 377.9 785.3 378C787.7 378.1 790.2 376.7 792.7 378.3C795.2 379.9 797.7 386.3 800.2 387.7C802.7 389.1 805.1 386.5 807.6 386.5C810.1 386.5 812.6 384.7 815.1 387.5C817.6 390.3 820.1 397.6 822.5 403.3C825 409 827.5 418.5 830 421.7C832.3 424.7 835 422.5 837.4 422.5C839.9 422.5 842.4 421.7 844.9 421.7C847.4 421.7 849.9 422.4 852.4 422.5C854.8 422.6 857.3 421.1 859.8 422.5C862.3 423.9 864.8 432.3 867.3 430.8C869.8 429.3 872.3 422.5 874.7 413.3C877.2 404 879.7 382.1 882.2 375C883.6 371 887.1 371.5 889.6 370.8C892.1 370.1 895.3 374.1 897.1 370.8C899.6 366.2 902.1 351.5 904.5 343C907 334.5 909.5 325.8 912 320C914.5 314.2 917 311.4 919.5 308.3C921.9 305.2 924.4 303.1 926.9 301.7C929.4 300.3 931.9 297.9 934.4 300C936.8 302.1 939.3 312.9 941.8 314.2C944.3 315.4 946.8 306.2 949.3 307.5C951.8 308.8 954.2 318.5 956.7 321.7C959.2 324.9 962.5 322.5 964.2 326.7C966.7 332.8 969.2 352.6 971.6 358.3C973.2 361.9 976.6 361.6 979.1 360.8C981.6 360 984.1 352.9 986.5 353.3C989 353.7 992.7 357 994 363C996.5 374.1 999 408.7 1001.5 420C1002.9 426.4 1006.4 429 1008.9 430.8C1011.4 432.6 1013.9 430.7 1016.4 430.8C1018.9 430.9 1021.3 430.2 1023.8 431.7C1026.3 433.2 1028.8 439 1031.3 439.7C1033.8 440.4 1036.2 436.4 1038.7 435.8C1041.2 435.2 1043.7 435.2 1046.2 435.8C1048.7 436.4 1051.2 439.1 1053.6 439.7C1056.1 440.3 1058.6 439.8 1061.1 439.7C1063.6 439.6 1066.1 440.6 1068.6 439.2C1071 437.8 1073.5 432.7 1076 431.3C1078.5 429.9 1081 431.7 1083.5 430.8C1085.9 429.9 1088.4 425.4 1090.9 425.8C1093.4 426.2 1095.9 430.9 1098.4 433.3C1100.9 435.7 1103.3 438.1 1105.8 440C1108.3 441.9 1110.8 444.9 1113.3 445C1115.8 445.1 1118.3 441.3 1120.7 440.5C1123.2 439.7 1125.9 443 1128.2 440C1130.7 436.7 1133.2 423 1135.6 420.8C1138.1 418.6 1140.6 423.6 1143.1 426.7C1145.6 429.8 1148.1 438.4 1150.6 439.2C1153 440 1155.5 434.1 1158 431.3C1160.5 428.5 1163 424.1 1165.5 422.5C1168 420.9 1171.7 422.1 1172.9 422"/>
<rect x="629.8" y="630.9" width="284.7" height="136.9" fill="#fff" stroke="#7f7f7f" stroke-width="1"/>
<rect x="656.9" y="637.4" width="41.1" height="9.8" fill="#e5e5e5"/>
<text x="703.2" y="647.9" font-size="14.6" textLength="184.2" lengthAdjust="spacingAndGlyphs">EU minimum/maximum</text>
<path class="ln" stroke="#7030a0" d="M657.3 664.7H698.4"/>
<text x="703.2" y="670.4" font-size="14.6" textLength="61.5" lengthAdjust="spacingAndGlyphs">Belgium</text>
<path class="ln" stroke="#1ba8e3" d="M657.3 688.5H698.4"/>
<text x="703.2" y="693.6" font-size="14.6" textLength="70.5" lengthAdjust="spacingAndGlyphs">Germany</text>
<path class="ln" stroke="#9bbb33" d="M657.3 710.9H698.4"/>
<text x="703.2" y="716.4" font-size="14.6" textLength="95" lengthAdjust="spacingAndGlyphs">Netherlands</text>
<path class="ln" stroke="#dd5a2b" d="M657.3 733.1H698.4"/>
<text x="703.2" y="738.8" font-size="14.6" textLength="52.4" lengthAdjust="spacingAndGlyphs">Poland</text>
<path class="ln" stroke="#f29b18" d="M657.3 756.1H698.4"/>
<text x="703.2" y="761.6" font-size="14.6" textLength="51" lengthAdjust="spacingAndGlyphs">France</text>
<text y="36.7" font-size="32"><tspan x="247.7" textLength="160.6" lengthAdjust="spacingAndGlyphs">Wholesale</tspan> <tspan x="420" textLength="87.3" lengthAdjust="spacingAndGlyphs">prices</tspan> <tspan x="520.1" textLength="41.1" lengthAdjust="spacingAndGlyphs">for</tspan> <tspan x="572.2" textLength="126.8" lengthAdjust="spacingAndGlyphs">bananas</tspan> <tspan x="711.8" textLength="71.5" lengthAdjust="spacingAndGlyphs">from</tspan> <tspan x="798" textLength="67.9" lengthAdjust="spacingAndGlyphs">Latin</tspan> <tspan x="880.5" textLength="124.7" lengthAdjust="spacingAndGlyphs">America</tspan></text>
<text x="24.7" y="34.7" font-size="19.4" textLength="73.3" lengthAdjust="spacingAndGlyphs">€/100kg</text>
<text x="15.5" y="801.2" font-size="19.4" textLength="21.6" lengthAdjust="spacingAndGlyphs">40</text>
<text x="15.5" y="697.1" font-size="19.4" textLength="21.6" lengthAdjust="spacingAndGlyphs">60</text>
<text x="15.5" y="593" font-size="19.4" textLength="21.6" lengthAdjust="spacingAndGlyphs">80</text>
<text x="4.7" y="488.9" font-size="19.4" textLength="32.4" lengthAdjust="spacingAndGlyphs">100</text>
<text x="4.7" y="384.8" font-size="19.4" textLength="32.4" lengthAdjust="spacingAndGlyphs">120</text>
<text x="4.7" y="280.7" font-size="19.4" textLength="32.4" lengthAdjust="spacingAndGlyphs">140</text>
<text x="4.7" y="176.6" font-size="19.4" textLength="32.4" lengthAdjust="spacingAndGlyphs">160</text>
<text x="4.7" y="72.5" font-size="19.4" textLength="32.4" lengthAdjust="spacingAndGlyphs">180</text>
<text x="56.8" y="830.2" font-size="19.4" textLength="10.7" lengthAdjust="spacingAndGlyphs">1</text>
<text x="86.6" y="830.2" font-size="19.4" textLength="10.7" lengthAdjust="spacingAndGlyphs">5</text>
<text x="116.4" y="830.2" font-size="19.4" textLength="10.7" lengthAdjust="spacingAndGlyphs">9</text>
<text x="140.9" y="830.2" font-size="19.4" textLength="21.3" lengthAdjust="spacingAndGlyphs">13</text>
<text x="170.8" y="830.2" font-size="19.4" textLength="21.3" lengthAdjust="spacingAndGlyphs">17</text>
<text x="200.6" y="830.2" font-size="19.4" textLength="21.3" lengthAdjust="spacingAndGlyphs">21</text>
<text x="230.4" y="830.2" font-size="19.4" textLength="21.3" lengthAdjust="spacingAndGlyphs">25</text>
<text x="260.2" y="830.2" font-size="19.4" textLength="21.3" lengthAdjust="spacingAndGlyphs">29</text>
<text x="290" y="830.2" font-size="19.4" textLength="21.3" lengthAdjust="spacingAndGlyphs">33</text>
<text x="319.9" y="830.2" font-size="19.4" textLength="21.3" lengthAdjust="spacingAndGlyphs">37</text>
<text x="349.7" y="830.2" font-size="19.4" textLength="21.3" lengthAdjust="spacingAndGlyphs">41</text>
<text x="379.5" y="830.2" font-size="19.4" textLength="21.3" lengthAdjust="spacingAndGlyphs">45</text>
<text x="409.3" y="830.2" font-size="19.4" textLength="21.3" lengthAdjust="spacingAndGlyphs">49</text>
<text x="444.5" y="830.2" font-size="19.4" textLength="10.7" lengthAdjust="spacingAndGlyphs">1</text>
<text x="474.3" y="830.2" font-size="19.4" textLength="10.7" lengthAdjust="spacingAndGlyphs">5</text>
<text x="504.1" y="830.2" font-size="19.4" textLength="10.7" lengthAdjust="spacingAndGlyphs">9</text>
<text x="528.6" y="830.2" font-size="19.4" textLength="21.3" lengthAdjust="spacingAndGlyphs">13</text>
<text x="558.4" y="830.2" font-size="19.4" textLength="21.3" lengthAdjust="spacingAndGlyphs">17</text>
<text x="588.2" y="830.2" font-size="19.4" textLength="21.3" lengthAdjust="spacingAndGlyphs">21</text>
<text x="618.1" y="830.2" font-size="19.4" textLength="21.3" lengthAdjust="spacingAndGlyphs">25</text>
<text x="647.9" y="830.2" font-size="19.4" textLength="21.3" lengthAdjust="spacingAndGlyphs">29</text>
<text x="677.7" y="830.2" font-size="19.4" textLength="21.3" lengthAdjust="spacingAndGlyphs">33</text>
<text x="707.5" y="830.2" font-size="19.4" textLength="21.3" lengthAdjust="spacingAndGlyphs">37</text>
<text x="737.3" y="830.2" font-size="19.4" textLength="21.3" lengthAdjust="spacingAndGlyphs">41</text>
<text x="767.2" y="830.2" font-size="19.4" textLength="21.3" lengthAdjust="spacingAndGlyphs">45</text>
<text x="797" y="830.2" font-size="19.4" textLength="21.3" lengthAdjust="spacingAndGlyphs">49</text>
<text x="832.1" y="830.2" font-size="19.4" textLength="10.7" lengthAdjust="spacingAndGlyphs">1</text>
<text x="861.9" y="830.2" font-size="19.4" textLength="10.7" lengthAdjust="spacingAndGlyphs">5</text>
<text x="891.8" y="830.2" font-size="19.4" textLength="10.7" lengthAdjust="spacingAndGlyphs">9</text>
<text x="916.3" y="830.2" font-size="19.4" textLength="21.3" lengthAdjust="spacingAndGlyphs">13</text>
<text x="946.1" y="830.2" font-size="19.4" textLength="21.3" lengthAdjust="spacingAndGlyphs">17</text>
<text x="975.9" y="830.2" font-size="19.4" textLength="21.3" lengthAdjust="spacingAndGlyphs">21</text>
<text x="1005.7" y="830.2" font-size="19.4" textLength="21.3" lengthAdjust="spacingAndGlyphs">25</text>
<text x="1035.5" y="830.2" font-size="19.4" textLength="21.3" lengthAdjust="spacingAndGlyphs">29</text>
<text x="1065.4" y="830.2" font-size="19.4" textLength="21.3" lengthAdjust="spacingAndGlyphs">33</text>
<text x="1095.2" y="830.2" font-size="19.4" textLength="21.3" lengthAdjust="spacingAndGlyphs">37</text>
<text x="1125" y="830.2" font-size="19.4" textLength="21.3" lengthAdjust="spacingAndGlyphs">41</text>
<text x="1154.8" y="830.2" font-size="19.4" textLength="21.3" lengthAdjust="spacingAndGlyphs">45</text>
<text x="17" y="875.8" font-size="19.4" textLength="127.5" lengthAdjust="spacingAndGlyphs">Week number</text>
<text x="230.6" y="873.8" font-size="19.4" textLength="43.2" lengthAdjust="spacingAndGlyphs">2023</text>
<text x="618.3" y="873.8" font-size="19.4" textLength="43.2" lengthAdjust="spacingAndGlyphs">2024</text>
<text x="983.6" y="873.8" font-size="19.4" textLength="43.2" lengthAdjust="spacingAndGlyphs">2025</text>
</svg></body></html>
